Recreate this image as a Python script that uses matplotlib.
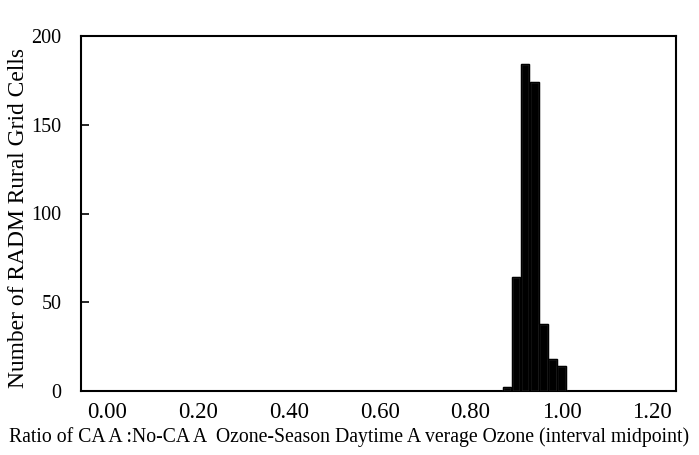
import matplotlib
matplotlib.use("Agg")
import matplotlib.pyplot as plt

# interval midpoints (ratio CAA : No-CAA) and cell counts
midpoints = [0.88, 0.90, 0.92, 0.94, 0.96, 0.98, 1.00]
counts = [2, 64, 184, 174, 38, 18, 14]

x_ticks = [0.00, 0.20, 0.40, 0.60, 0.80, 1.00, 1.20]
x_tick_labels = ["0.00", "0.20", "0.40", "0.60", "0.80", "1.00", "1.20"]
y_ticks = [0, 50, 100, 150, 200]

plt.rcParams["font.family"] = ["Liberation Serif", "DejaVu Serif"]

fig = plt.figure(figsize=(6.99, 4.55), dpi=100)
ax = fig.add_axes([81 / 699, 1 - 391 / 455, (676 - 81) / 699, (391 - 36) / 455])

ax.bar(midpoints, counts, width=0.019, color="black",
       edgecolor="0.6", linewidth=0.9, zorder=3)
ax.bar(midpoints, counts, width=0.019, color="none",
       edgecolor="black", linewidth=1.0, zorder=4)

ax.set_xlim(-0.057, 1.252)
ax.set_ylim(0, 200)
ax.set_xticks(x_ticks)
ax.set_xticklabels(x_tick_labels)
ax.set_yticks(y_ticks)

ax.tick_params(axis="x", length=0, pad=8, labelsize=16.5)
ax.tick_params(axis="y", direction="in", length=6, width=1.2,
               pad=14, labelsize=14.5)

for side in ["left", "bottom", "top", "right"]:
    ax.spines[side].set_linewidth(1.5)

# axis titles placed on the figure (x title is centred on the page, not the axes)
fig.text(349 / 699, 1 - 437 / 455,
         "Ratio of CA A :No-CA A  Ozone-Season Daytime A verage Ozone (interval midpoint)",
         fontsize=14.2, ha="center", va="center")
fig.text(19 / 699, 1 - 218 / 455, "Number of RADM Rural Grid Cells",
         fontsize=16.9, rotation=90, ha="center", va="center")

fig.savefig("out.png", dpi=100)
